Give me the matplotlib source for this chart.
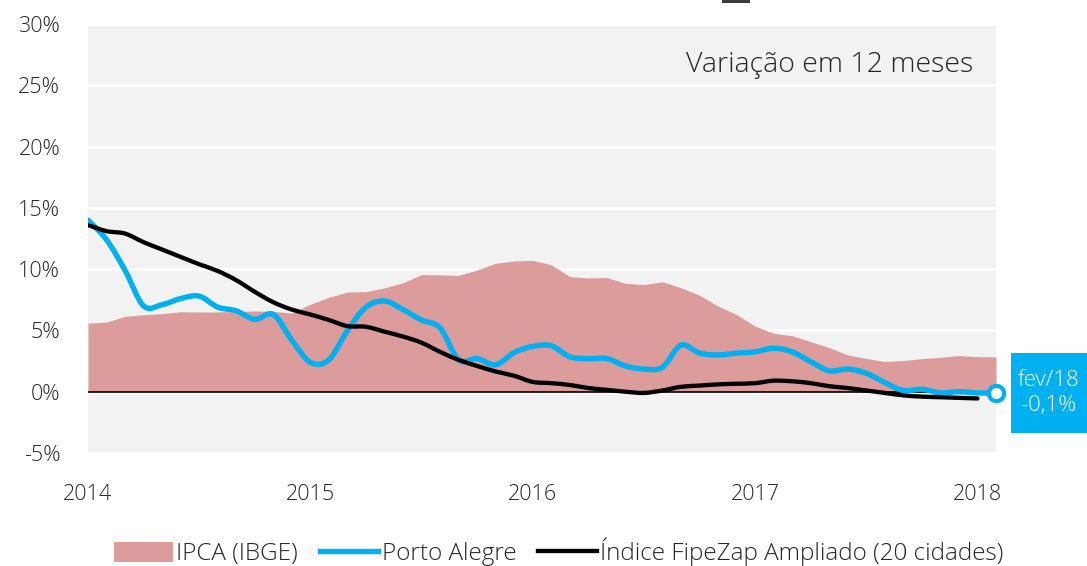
import matplotlib
matplotlib.use("Agg")
import matplotlib.pyplot as plt
from matplotlib.patches import Rectangle, PathPatch
from matplotlib.path import Path
from matplotlib.lines import Line2D
import numpy as np

plt.rcParams['font.family'] = ['Open Sans', 'DejaVu Sans']
plt.rcParams['font.weight'] = 'light'

# Monthly, Jan 2014 .. Feb 2018 (50 months)
months = np.arange(50)
year_ticks = [0, 12, 24, 36, 48]
year_labels = ['2014', '2015', '2016', '2017', '2018']

ipca = [5.59, 5.68, 6.15, 6.28, 6.37, 6.52, 6.50, 6.51, 6.55, 6.59, 6.56, 6.41,
        7.14, 7.70, 8.13, 8.17, 8.47, 8.89, 9.56, 9.53, 9.49, 9.93, 10.48, 10.67,
        10.71, 10.36, 9.39, 9.28, 9.32, 8.84, 8.74, 8.97, 8.48, 7.87, 6.99, 6.29,
        5.35, 4.76, 4.57, 4.08, 3.60, 3.00, 2.71, 2.46, 2.54, 2.70, 2.80, 2.95,
        2.86, 2.84]

porto_alegre = [14.0, 12.4, 9.9, 7.0, 7.1, 7.6, 7.8, 6.9, 6.6, 5.9, 6.3, 4.2,
                2.4, 2.6, 5.0, 6.9, 7.4, 6.7, 5.85, 5.2, 2.6, 2.7, 2.2, 3.2,
                3.7, 3.75, 2.85, 2.7, 2.7, 2.1, 1.85, 2.0, 3.8, 3.15, 3.0, 3.15,
                3.25, 3.55, 3.25, 2.45, 1.7, 1.85, 1.5, 0.75, 0.1, 0.2, -0.1, 0.0,
                -0.1, -0.1]

fipezap = [13.6, 13.1, 12.9, 12.2, 11.6, 11.0, 10.4, 9.85, 9.1, 8.15, 7.3, 6.7,
           6.3, 5.85, 5.35, 5.3, 4.9, 4.5, 4.0, 3.25, 2.6, 2.1, 1.65, 1.3,
           0.8, 0.7, 0.55, 0.3, 0.15, 0.0, -0.1, 0.1, 0.4, 0.5, 0.6, 0.65,
           0.7, 0.9, 0.85, 0.7, 0.45, 0.3, 0.1, -0.1, -0.3, -0.4, -0.45, -0.5,
           -0.55]

last_label = 'fev/18\n-0,1%'

c_ipca = '#db9c9b'
c_blue = '#00b0f0'
c_black = '#000000'
text_c = '#262626'


def smooth_path(x, y, t=1/6):
    """Bezier path through the data points (Excel-like smoothed line)."""
    x = np.asarray(x, float)
    y = np.asarray(y, float)
    n = len(x)
    verts = [(x[0], y[0])]
    codes = [Path.MOVETO]
    for i in range(n - 1):
        x0, y0 = (x[i - 1], y[i - 1]) if i > 0 else (x[i], y[i])
        x3, y3 = (x[i + 2], y[i + 2]) if i + 2 < n else (x[i + 1], y[i + 1])
        c1 = (x[i] + (x[i + 1] - x0) * t, y[i] + (y[i + 1] - y0) * t)
        c2 = (x[i + 1] - (x3 - x[i]) * t, y[i + 1] - (y3 - y[i]) * t)
        verts += [c1, c2, (x[i + 1], y[i + 1])]
        codes += [Path.CURVE4] * 3
    return Path(verts, codes)


fig = plt.figure(figsize=(10.87, 5.66), dpi=100)
ax = fig.add_axes([88/1087, 1-453/566, (996-88)/1087, (453-24)/566])
ax.set_facecolor('#f2f2f2')

ax.fill_between(months, 0, ipca, color=c_ipca, lw=0, zorder=2)
ax.axhline(0, color='black', lw=1.2, zorder=3)
ax.add_patch(PathPatch(smooth_path(months, porto_alegre), facecolor='none', edgecolor=c_blue,
                       lw=3.9, joinstyle='round', capstyle='round', zorder=4))
ax.add_patch(PathPatch(smooth_path(np.arange(len(fipezap)), fipezap), facecolor='none',
                       edgecolor=c_black, lw=3.1, joinstyle='round', capstyle='round', zorder=5))
ax.plot([months[-1]], [porto_alegre[-1]], 'o', ms=11, mfc='white', mec=c_blue, mew=3, zorder=6,
        clip_on=False)

ax.set_xlim(0, 49)
ax.set_ylim(-5, 30)
ax.set_yticks(np.arange(-5, 31, 5))
ax.set_yticklabels([f'{v}%' for v in range(-5, 31, 5)])
ax.set_xticks(year_ticks)
ax.set_xticklabels(year_labels)
ax.tick_params(axis='both', length=0, labelsize=15.5, colors=text_c)
ax.tick_params(axis='y', pad=20)
ax.tick_params(axis='x', pad=22)
ax.grid(axis='y', color='white', lw=2, zorder=1)
ax.set_axisbelow(True)
for s in ax.spines.values():
    s.set_visible(False)

ax.text(0.975, 0.905, 'Variação em 12 meses', transform=ax.transAxes, ha='right', va='center',
        fontsize=20.5, color=text_c)

# end label box
fig.patches.append(Rectangle((1011/1087, 1-433/566), 76/1087, 80/566, transform=fig.transFigure,
                             facecolor=c_blue, edgecolor='none'))
fig.text(1049/1087, 1-393/566, last_label, ha='center', va='center', color='white',
         fontsize=16, linespacing=1.3)

# small artifact at top
fig.patches.append(Rectangle((722/1087, 1-3/566), 28/1087, 3/566, transform=fig.transFigure,
                             facecolor='#3a3a3a', edgecolor='none'))

handles = [Rectangle((0, 0), 1, 1, facecolor=c_ipca, edgecolor='none'),
           Line2D([], [], color=c_blue, lw=3.9),
           Line2D([], [], color=c_black, lw=3.1)]
labels = ['IPCA (IBGE)', 'Porto Alegre', 'Índice FipeZap Ampliado (20 cidades)']
leg = fig.legend(handles, labels, loc='center', bbox_to_anchor=(559/1087, 1-552/566), ncol=3,
                 frameon=False, fontsize=17.5, handlelength=2.4, handleheight=0.9,
                 handletextpad=0.15, columnspacing=0.9, labelcolor=text_c)

fig.savefig('out.png', dpi=100)
